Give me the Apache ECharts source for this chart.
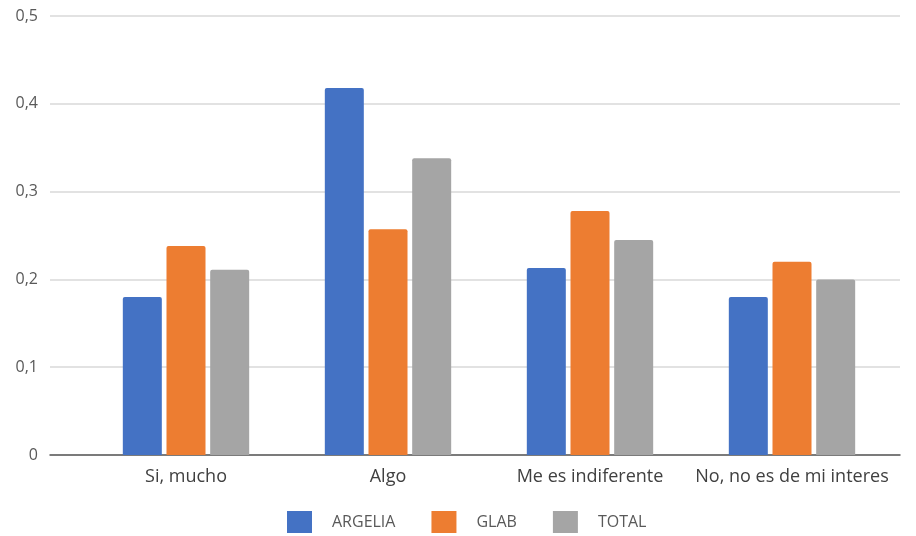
<!DOCTYPE html>
<html>
<head>
<meta charset="utf-8">
<script src="https://cdn.jsdelivr.net/npm/echarts@6/dist/echarts.min.js"></script>
<style>
  html, body { margin: 0; padding: 0; background: #fff; }
  #chart { width: 916px; height: 536px; }
</style>
</head>
<body>
<div id="chart"></div>
<script>
const categories = ["Si, mucho", "Algo", "Me es indiferente", "No, no es de mi interes"];
const argelia = [0.18, 0.418, 0.213, 0.18];
const glab = [0.238, 0.257, 0.278, 0.22];
const total = [0.211, 0.338, 0.245, 0.2];
const yTicks = { min: 0, max: 0.5, interval: 0.1 };

const chart = echarts.init(document.getElementById("chart"));

const fmt = v => (v === 0 ? "0" : v.toFixed(1).replace(".", ","));
const barStyle = color => ({ color: color, borderRadius: [2, 2, 0, 0] });

chart.setOption({
  animation: false,
  textStyle: { fontFamily: "Open Sans, sans-serif" },
  legend: {
    bottom: -2,
    left: 282,
    itemWidth: 25,
    itemHeight: 22,
    itemGap: 36,
    icon: "rect",
    textStyle: { color: "#595959", fontSize: 16, padding: [0, 0, 0, 15] },
    data: ["ARGELIA", "GLAB", "TOTAL"]
  },
  grid: [
    // grid used only for the value axis and its gridlines
    { left: 50, right: 16, top: 16, bottom: 81 },
    // grid holding the bars
    { left: 85, right: 23, top: 16, bottom: 81 }
  ],
  xAxis: [
    {
      gridIndex: 0, type: "category", data: categories,
      axisLine: { lineStyle: { color: "#595959", width: 1.5 } },
      axisTick: { show: false }, axisLabel: { show: false }
    },
    {
      gridIndex: 1, type: "category", data: categories,
      axisLine: { show: false }, axisTick: { show: false },
      axisLabel: { color: "#404040", fontSize: 18, margin: 13, interval: 0 }
    }
  ],
  yAxis: [
    {
      gridIndex: 0, type: "value", min: yTicks.min, max: yTicks.max, interval: yTicks.interval,
      axisLine: { show: false }, axisTick: { show: false },
      axisLabel: { color: "#595959", fontSize: 16, margin: 12, formatter: fmt },
      splitLine: { lineStyle: { color: "#d9d9d9", width: 1.5 } }
    },
    {
      gridIndex: 1, type: "value", min: yTicks.min, max: yTicks.max, interval: yTicks.interval,
      axisLine: { show: false }, axisTick: { show: false },
      axisLabel: { show: false }, splitLine: { show: false }
    }
  ],
  series: [
    { name: "ARGELIA", type: "bar", xAxisIndex: 1, yAxisIndex: 1, data: argelia,
      barWidth: 39, barGap: "12%", itemStyle: barStyle("#4472C4") },
    { name: "GLAB", type: "bar", xAxisIndex: 1, yAxisIndex: 1, data: glab,
      barWidth: 39, barGap: "12%", itemStyle: barStyle("#ED7D31") },
    { name: "TOTAL", type: "bar", xAxisIndex: 1, yAxisIndex: 1, data: total,
      barWidth: 39, barGap: "12%", itemStyle: barStyle("#A5A5A5") }
  ]
});
</script>
</body>
</html>
